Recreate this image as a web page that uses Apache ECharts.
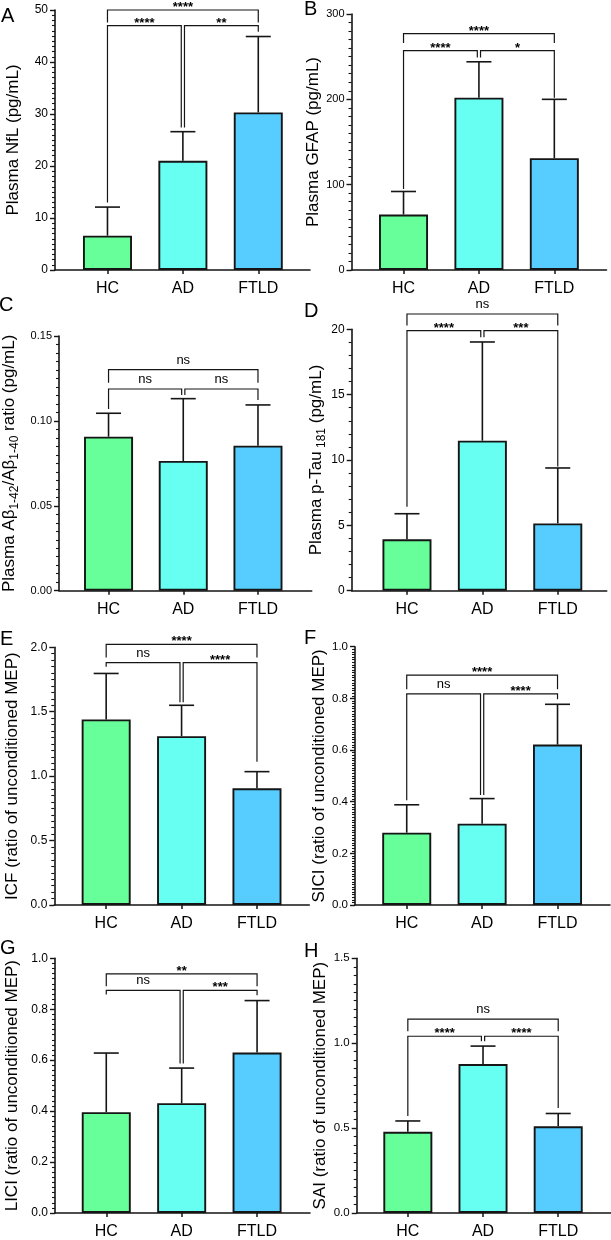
<!DOCTYPE html>
<html><head><meta charset="utf-8">
<script src="https://cdn.jsdelivr.net/npm/echarts@6/dist/echarts.min.js"></script>
<style>html,body{margin:0;padding:0;background:#fff}#c{width:611px;height:1240px}</style>
</head><body><div id="c"></div>
<script>
// ---------- DATA ----------
const groups = ['HC', 'AD', 'FTLD'];

const nflMean = [6.6, 21.0, 30.3];
const nflErr = [5.5, 5.6, 14.6];
const gfapMean = [65, 202, 131];
const gfapErr = [27, 42, 69];
const abMean = [0.0907, 0.0764, 0.0854];
const abErr = [0.0138, 0.0367, 0.0240];
const ptauMean = [3.93, 11.48, 5.15];
const ptauErr = [1.96, 7.55, 4.24];
const icfMean = [1.44, 1.31, 0.906];
const icfErr = [0.357, 0.24, 0.129];
const siciMean = [0.28, 0.315, 0.621];
const siciErr = [0.108, 0.097, 0.156];
const liciMean = [0.396, 0.431, 0.630];
const liciErr = [0.232, 0.138, 0.204];
const saiMean = [0.478, 0.877, 0.511];
const saiErr = [0.064, 0.106, 0.075];

// y-axis tick labels
const nflTicks = [0, 10, 20, 30, 40, 50];
const gfapTicks = [0, 100, 200, 300];
const abTicks = [0, 0.05, 0.10, 0.15];
const ptauTicks = [0, 5, 10, 15, 20];
const icfTicks = [0, 0.5, 1.0, 1.5, 2.0];
const siciTicks = [0, 0.2, 0.4, 0.6, 0.8, 1.0];
const liciTicks = [0, 0.2, 0.4, 0.6, 0.8, 1.0];
const saiTicks = [0, 0.5, 1.0, 1.5];

// significance brackets: [fromGroup, toGroup, height, leftLegEnd, rightLegEnd]
const nflBrackets = [[0, 2, 50, 47.6, 47.6], [0, 1, 47, 13.0, 27.4], [1, 2, 47, 27.4, 45.8]];
const nflSig = ['****', '****', '**'];
const gfapBrackets = [[0, 2, 277, 266, 266], [0, 1, 257, 95, 249], [1, 2, 257, 249, 202]];
const gfapSig = ['****', '****', '*'];
const abBrackets = [[0, 2, 0.1302, 0.1225, 0.1225], [0, 1, 0.1188, 0.107, 0.1153], [1, 2, 0.1188, 0.1153, 0.1123]];
const abSig = ['ns', 'ns', 'ns'];
const ptauBrackets = [[0, 2, 21.17, 20.3, 20.3], [0, 1, 19.9, 6.43, 19.4], [1, 2, 19.9, 19.4, 9.5]];
const ptauSig = ['ns', '****', '***'];
const icfBrackets = [[0, 2, 2.023, 1.92, 1.92], [0, 1, 1.881, 1.85, 1.573], [1, 2, 1.881, 1.573, 1.112]];
const icfSig = ['****', 'ns', '****'];
const siciBrackets = [[0, 2, 0.890, 0.835, 0.835], [0, 1, 0.817, 0.406, 0.426], [1, 2, 0.817, 0.426, 0.797]];
const siciSig = ['****', 'ns', '****'];
const liciBrackets = [[0, 2, 0.939, 0.89, 0.89], [0, 1, 0.874, 0.858, 0.587], [1, 2, 0.874, 0.587, 0.855]];
const liciSig = ['**', 'ns', '***'];
const saiBrackets = [[0, 2, 1.142, 1.07, 1.07], [0, 1, 1.041, 0.571, 1.012], [1, 2, 1.041, 1.012, 0.619]];
const saiSig = ['ns', '****', '****'];

// ---------- STYLE / LAYOUT ----------
const FONT = '"Liberation Sans", Arial, Helvetica, sans-serif';
const colors = ['#66FF99', '#66FFF2', '#56CCFF'];
const INK = '#151515';

const panels = [
  {letter: 'A', lx: 1, ly: 6, name: 'Plasma NfL (pg/mL)', mean: nflMean, err: nflErr, ticks: nflTicks, dec: 0, minor: 10,
   br: nflBrackets, sig: nflSig, left: 55, top: 10, height: 260, xmin: -0.696, tickFont: 12, gap: 33.5},
  {letter: 'B', lx: 304, ly: -1, name: 'Plasma GFAP (pg/mL)', mean: gfapMean, err: gfapErr, ticks: gfapTicks, dec: 0, minor: 10,
   br: gfapBrackets, sig: gfapSig, left: 351.5, top: 14, height: 256, xmin: -0.690, tickFont: 11, gap: 26},
  {letter: 'C', lx: -1, ly: 295, name: '{m|Plasma Aβ}{s|1-42}{m|/Aβ}{s|1-40}{m| ratio (pg/mL)}', mean: abMean, err: abErr, ticks: abTicks, dec: 2, minor: 10,
   br: abBrackets, sig: abSig, left: 56.7, top: 336, height: 254.7, xmin: -0.663, tickFont: 11, gap: 38.5},
  {letter: 'D', lx: 304, ly: 301, name: '{m|Plasma p-Tau}{s| 181}{m| (pg/mL)}', mean: ptauMean, err: ptauErr, ticks: ptauTicks, dec: 0, minor: 5,
   br: ptauBrackets, sig: ptauSig, left: 351.7, top: 329.3, height: 261.4, xmin: -0.733, tickFont: 12, gap: 20},
  {letter: 'E', lx: 0, ly: 629, name: 'ICF (ratio of unconditioned MEP)', mean: icfMean, err: icfErr, ticks: icfTicks, dec: 1, minor: 10,
   br: icfBrackets, sig: icfSig, left: 54.3, top: 647.3, height: 257.7, xmin: -0.688, tickFont: 12, gap: 33},
  {letter: 'F', lx: 304, ly: 628, name: 'SICI (ratio of unconditioned MEP)', mean: siciMean, err: siciErr, ticks: siciTicks, dec: 1, minor: 20,
   br: siciBrackets, sig: siciSig, left: 355, top: 646.7, height: 258.3, xmin: -0.686, tickFont: 11.5, gap: 26.5},
  {letter: 'G', lx: 0, ly: 938, name: 'LICI (ratio of unconditioned MEP)', mean: liciMean, err: liciErr, ticks: liciTicks, dec: 1, minor: 10,
   br: liciBrackets, sig: liciSig, left: 55, top: 958.3, height: 258.4, xmin: -0.680, tickFont: 12, gap: 34.5},
  {letter: 'H', lx: 304, ly: 941, name: 'SAI (ratio of unconditioned MEP)', mean: saiMean, err: saiErr, ticks: saiTicks, dec: 1, minor: 10,
   br: saiBrackets, sig: saiSig, left: 356.7, top: 958.3, height: 258.4, xmin: -0.680, tickFont: 11.5, gap: 28.2}
];
const AXW = 255;      // x-axis length in px
const XSPAN = 3.382;  // x-axis value span

const grid = [], xAxis = [], yAxis = [], series = [], title = [];

panels.forEach((p, i) => {
  grid.push({left: p.left, top: p.top, width: AXW, height: p.height});
  title.push({text: p.letter, left: p.lx, top: p.ly, padding: 0,
    textStyle: {fontSize: 20, fontWeight: 'normal', color: '#000', fontFamily: FONT}});
  xAxis.push({
    gridIndex: i, type: 'value', min: p.xmin, max: p.xmin + XSPAN,
    axisLine: {show: true, onZero: false, lineStyle: {color: INK, width: 1.6}},
    axisTick: {show: true, customValues: [0, 1, 2], length: 4, lineStyle: {color: INK, width: 1.5}},
    axisLabel: {customValues: [0, 1, 2], formatter: v => groups[Math.round(v)] || '',
      fontSize: 16, color: '#000', fontFamily: FONT, margin: 11},
    splitLine: {show: false}
  });
  const t = p.ticks;
  yAxis.push({
    gridIndex: i, type: 'value', min: t[0], max: t[t.length - 1], interval: t[1] - t[0],
    axisLine: {show: true, onZero: false, lineStyle: {color: INK, width: 1.6}},
    axisTick: {show: true, length: 5, lineStyle: {color: INK, width: 1.4}},
    minorTick: {show: true, splitNumber: p.minor, length: 3, lineStyle: {color: INK, width: 1.1}},
    axisLabel: {fontSize: p.tickFont, color: '#000', fontFamily: FONT, margin: 7,
      formatter: v => Number(v).toFixed(p.dec)},
    splitLine: {show: false},
    name: p.name, nameLocation: 'middle', nameGap: p.gap,
    nameTextStyle: {fontSize: 17, color: '#000', fontFamily: FONT,
      rich: {
        m: {fontSize: 17, fontFamily: FONT, color: '#000', lineHeight: 22},
        s: {fontSize: 12, fontFamily: FONT, color: '#000', lineHeight: 13, verticalAlign: 'bottom'}
      }}
  });
  series.push({
    type: 'bar', xAxisIndex: i, yAxisIndex: i, barWidth: 49, silent: true, z: 2,
    itemStyle: {borderColor: INK, borderWidth: 1.9},
    data: p.mean.map((v, k) => ({value: [k, v], itemStyle: {color: colors[k]}}))
  });
  series.push({
    type: 'custom', xAxisIndex: i, yAxisIndex: i, silent: true, z: 3, clip: false,
    data: p.mean.map((v, k) => [k, v, v + p.err[k]]),
    encode: {x: 0, y: [1, 2]},
    renderItem: (params, api) => {
      const x = api.value(0);
      const a = api.coord([x, api.value(1)]);
      const b = api.coord([x, api.value(2)]);
      return {type: 'group', children: [
        {type: 'line', shape: {x1: a[0], y1: a[1], x2: b[0], y2: b[1]}, style: {stroke: INK, lineWidth: 1.6}},
        {type: 'line', shape: {x1: b[0] - 12.5, y1: b[1], x2: b[0] + 12.5, y2: b[1]}, style: {stroke: INK, lineWidth: 1.6}}
      ]};
    }
  });
  series.push({
    type: 'custom', xAxisIndex: i, yAxisIndex: i, silent: true, z: 4, clip: false,
    data: p.br.map(b => b.slice()),
    encode: {x: [0, 1], y: [2, 3, 4]},
    renderItem: (params, api) => {
      const f = api.value(0), to = api.value(1), h = api.value(2);
      const g = 1.6;
      const ph = api.coord([f, h]);
      const xl = ph[0] + (f === 1 ? g : 0);
      const xr = api.coord([to, h])[0] - (to === 1 ? g : 0);
      const yh = ph[1];
      const yL = api.coord([f, api.value(3)])[1];
      const yR = api.coord([to, api.value(4)])[1];
      const lab = p.sig[params.dataIndex];
      const isNs = lab === 'ns';
      return {type: 'group', children: [
        {type: 'polyline', shape: {points: [[xl, yL], [xl, yh], [xr, yh], [xr, yR]]},
         style: {stroke: INK, lineWidth: 1.2, fill: null}},
        {type: 'text', x: (xl + xr) / 2, y: isNs ? yh - 9.5 : yh - 2.5,
         style: {text: lab, fill: '#000', fontFamily: FONT, fontSize: 13,
           fontWeight: isNs ? 'normal' : 'bold', align: 'center', verticalAlign: 'middle'}}
      ]};
    }
  });
});

const chart = echarts.init(document.getElementById('c'), null, {renderer: 'canvas'});
chart.setOption({animation: false, backgroundColor: '#fff', title, grid, xAxis, yAxis, series});
</script>
</body></html>
